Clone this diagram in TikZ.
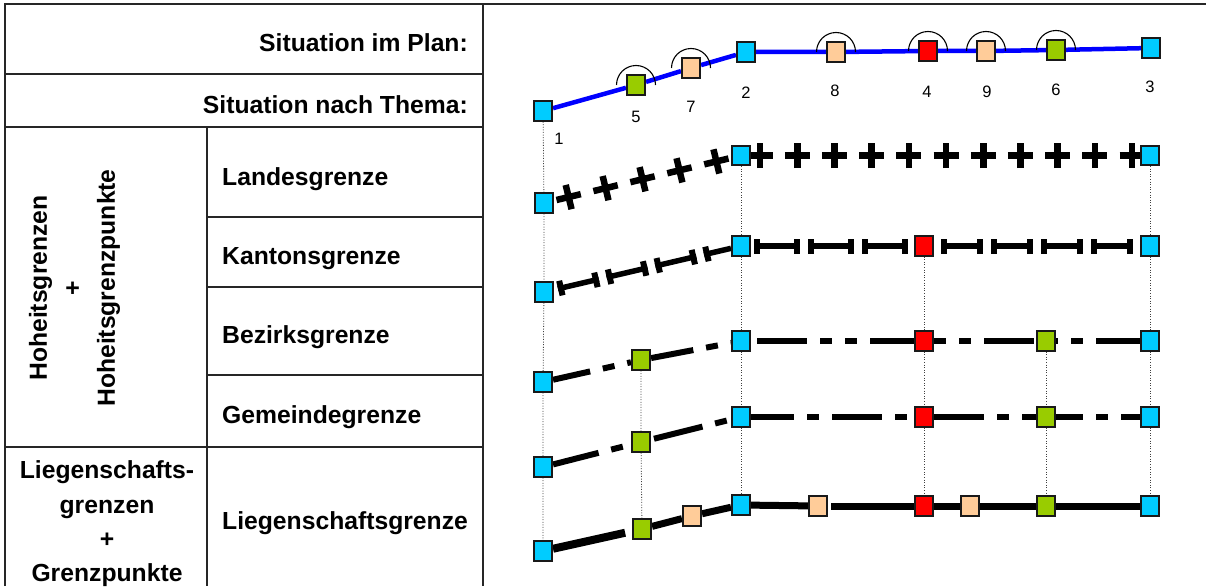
\documentclass[tikz,border=0pt]{standalone}
\usepackage{fontspec}
\setmainfont{Liberation Sans}
\usetikzlibrary{decorations.markings,backgrounds}
\definecolor{gpblau}{RGB}{0,204,255}
\definecolor{gpgruen}{RGB}{153,204,0}
\definecolor{gprosa}{RGB}{255,204,153}
\definecolor{gprot}{RGB}{255,0,0}
\definecolor{planblau}{RGB}{0,0,255}
\begin{document}
\begin{tikzpicture}[x=1pt,y=-1pt,
	gp/.style={draw=black!90,line width=1.6pt,minimum width=18.5pt,minimum height=19.5pt,inner sep=0pt},
	tab/.style={black!85,line width=1.3pt},
	lot/.style={black!75,line width=0.8pt,dash pattern=on 1pt off 1.6pt},
	titel/.style={font=\bfseries\fontsize{24.7}{34.4}\selectfont,inner sep=0pt},
	nr/.style={font=\fontsize{16.5}{18}\selectfont,inner sep=0pt},
	plan/.style={planblau,line width=4.5pt},
	kgrenze/.style={line width=5.5pt},
	bgrenze/.style={line width=6pt,dash pattern=on 50pt off 13pt on 12pt off 13pt on 12pt off 13pt},
	ggrenze/.style={line width=6pt,dash pattern=on 50pt off 13pt on 12pt off 13pt},
	sgrenze/.style={line width=7pt}]
	\useasboundingbox (0,0) rectangle (1206,586);
	\def\kreuz{\draw[line width=6.5pt] (-12.5pt,0) -- (12.5pt,0) (0,-12.5pt) -- (0,12.5pt);}
	\def\kstrich{\draw[solid,line width=6pt] (0,-7.5pt) -- (0,7.5pt);}
	\def\kgr#1#2#3#4{
		\pgfmathsetmacro{\kph}{#4+8-#3}
		\pgfmathsetmacro{\kst}{#4+8}
		\pgfmathsetmacro{\ka}{#3+3}
		\pgfmathsetmacro{\kb}{#3+#4-3}
		\draw[kgrenze,dash pattern=on #4pt off 8pt,dash phase=\kph pt,postaction={decorate,decoration={markings,
				mark=between positions \ka pt and 1 step \kst pt with {\kstrich},
				mark=between positions \kb pt and 1 step \kst pt with {\kstrich}}}] (#1) -- (#2);
	}
	% Tabelle
	\draw[tab] (5,586) -- (5,4) -- (1206,4) (483,4) -- (483,586) (207,127) -- (207,586);
	\foreach \y in {74,127,447} \draw[tab] (5,\y) -- (483,\y);
	\foreach \y in {217,287,375} \draw[tab] (207,\y) -- (483,\y);
	\node[titel,anchor=east] (plan) at (468,43) {Situation im Plan:};
	\node[titel,anchor=east] (thema) at (468,105) {Situation nach Thema:};
	\node[titel,rotate=90,align=center,font=\bfseries\fontsize{24.7}{34}\selectfont] (hoheit) at (74.5,288) {Hoheitsgrenzen\\+\\Hoheitsgrenzpunkte};
	\node[titel,align=center] (liegpkt) at (107,524) {Liegenschafts-\\grenzen\\+\\Grenzpunkte};
	\foreach \n/\y/\txt in {landes/179/Landesgrenze,kanton/259/Kantonsgrenze,bezirk/337/Bezirksgrenze,gemeinde/417/Gemeindegrenze,lieg/523/Liegenschaftsgrenze}
		\node[titel,anchor=west] (\n) at (222,\y) {\txt};
	% Punkte
	\foreach \n/\x/\y/\f in {1/543/111/gpblau,5/636/85/gpgruen,7/691/68/gprosa,2/746/52/gpblau,8/836/52/gprosa,4/928/51/gprot,9/986/51/gprosa,6/1056/50/gpgruen,3/1151/48/gpblau}
		\node[gp,fill=\f] (t\n) at (\x,\y) {};
	\foreach \n/\x/\y in {1/559/139,5/636/117,7/691/107,2/746/93,8/835/91,4/927/92,9/987/92,6/1056/90,3/1150/87}
		\node[nr] (nr\n) at (\x,\y) {\n};
	\foreach \n/\x/\y in {1/544/203,2/741/155.5,3/1150/155.5}
		\node[gp,fill=gpblau] (l\n) at (\x,\y) {};
	\foreach \n/\x/\y/\f in {1/544/292/gpblau,2/741/246/gpblau,4/924/246/gprot,3/1150/246/gpblau}
		\node[gp,fill=\f] (k\n) at (\x,\y) {};
	\foreach \n/\x/\y/\f in {1/543/382/gpblau,5/641/360/gpgruen,2/741/341/gpblau,4/924/341/gprot,6/1046/341/gpgruen,3/1150/341/gpblau}
		\node[gp,fill=\f] (b\n) at (\x,\y) {};
	\foreach \n/\x/\y/\f in {1/543/467/gpblau,5/641/442/gpgruen,2/741/417/gpblau,4/924/417/gprot,6/1046/417/gpgruen,3/1150/417/gpblau}
		\node[gp,fill=\f] (g\n) at (\x,\y) {};
	\foreach \n/\x/\y/\f in {1/543/551/gpblau,5/642/529/gpgruen,7/692/516/gprosa,2/741/505/gpblau,8/818/506/gprosa,4/924/506/gprot,9/970/506/gprosa,6/1046/506/gpgruen,3/1150/506/gpblau}
		\node[gp,fill=\f] (s\n) at (\x,\y) {};
	\foreach \n in {5,7,8,4,9,6}
		\draw[line width=1.1pt] (t\n.center) ++(-19.5pt,0) arc[start angle=180,end angle=0,radius=19.5pt];
	% Linien
	\begin{scope}[on background layer]
		\draw[lot] (t1) -- (l1) -- (k1) -- (b1) -- (g1) -- (s1);
		\draw[lot] (l2) -- (k2) -- (b2) -- (g2) -- (s2);
		\draw[lot] (k4) -- (b4) -- (g4) -- (s4);
		\draw[lot] (b5) -- (g5) -- (s5);
		\draw[lot] (b6) -- (g6) -- (s6);
		\draw[lot] (l3) -- (k3) -- (b3) -- (g3) -- (s3);
		\draw[plan] (t1) -- (t5) -- (t7) -- (t2) -- (t8) -- (t4) -- (t9) -- (t6) -- (t3);
		\path[decorate,decoration={markings,mark=between positions 15pt and 1 step 38pt with {\kreuz}}] (l1) -- (l2);
		\path[decorate,decoration={markings,mark=between positions 9pt and 1 step 37.2pt with {\kreuz}}] (l2) -- (l3);
		\kgr{k1}{k2}{4}{42}
		\kgr{k2}{k4}{3}{46}
		\kgr{k4}{k3}{7}{42}
		\draw[bgrenze,dash phase=12pt] (b1) -- (b5);
		\draw[bgrenze,dash phase=7pt] (b5) -- (b2);
		\draw[bgrenze,dash phase=107pt] (b2) -- (b4);
		\draw[bgrenze,dash phase=63pt] (b4) -- (b6);
		\draw[bgrenze,dash phase=73pt] (b6) -- (b3);
		\draw[ggrenze,dash phase=3pt] (g1) -- (g5);
		\draw[ggrenze,dash phase=85pt] (g5) -- (g2);
		\draw[ggrenze,dash phase=7pt] (g2) -- (g4);
		\draw[ggrenze,dash phase=0pt] (g4) -- (g6);
		\draw[ggrenze,dash phase=23pt] (g6) -- (g3);
		\draw[sgrenze,line width=8pt,shorten >=7pt] (s1) -- (s5);
		\draw[sgrenze] (s5) -- (s7) -- (s2) -- (s8);
		\draw[sgrenze,shorten <=3pt] (s8) -- (s4);
		\draw[sgrenze] (s4) -- (s9) -- (s6) -- (s3);
	\end{scope}
\end{tikzpicture}
\end{document}
